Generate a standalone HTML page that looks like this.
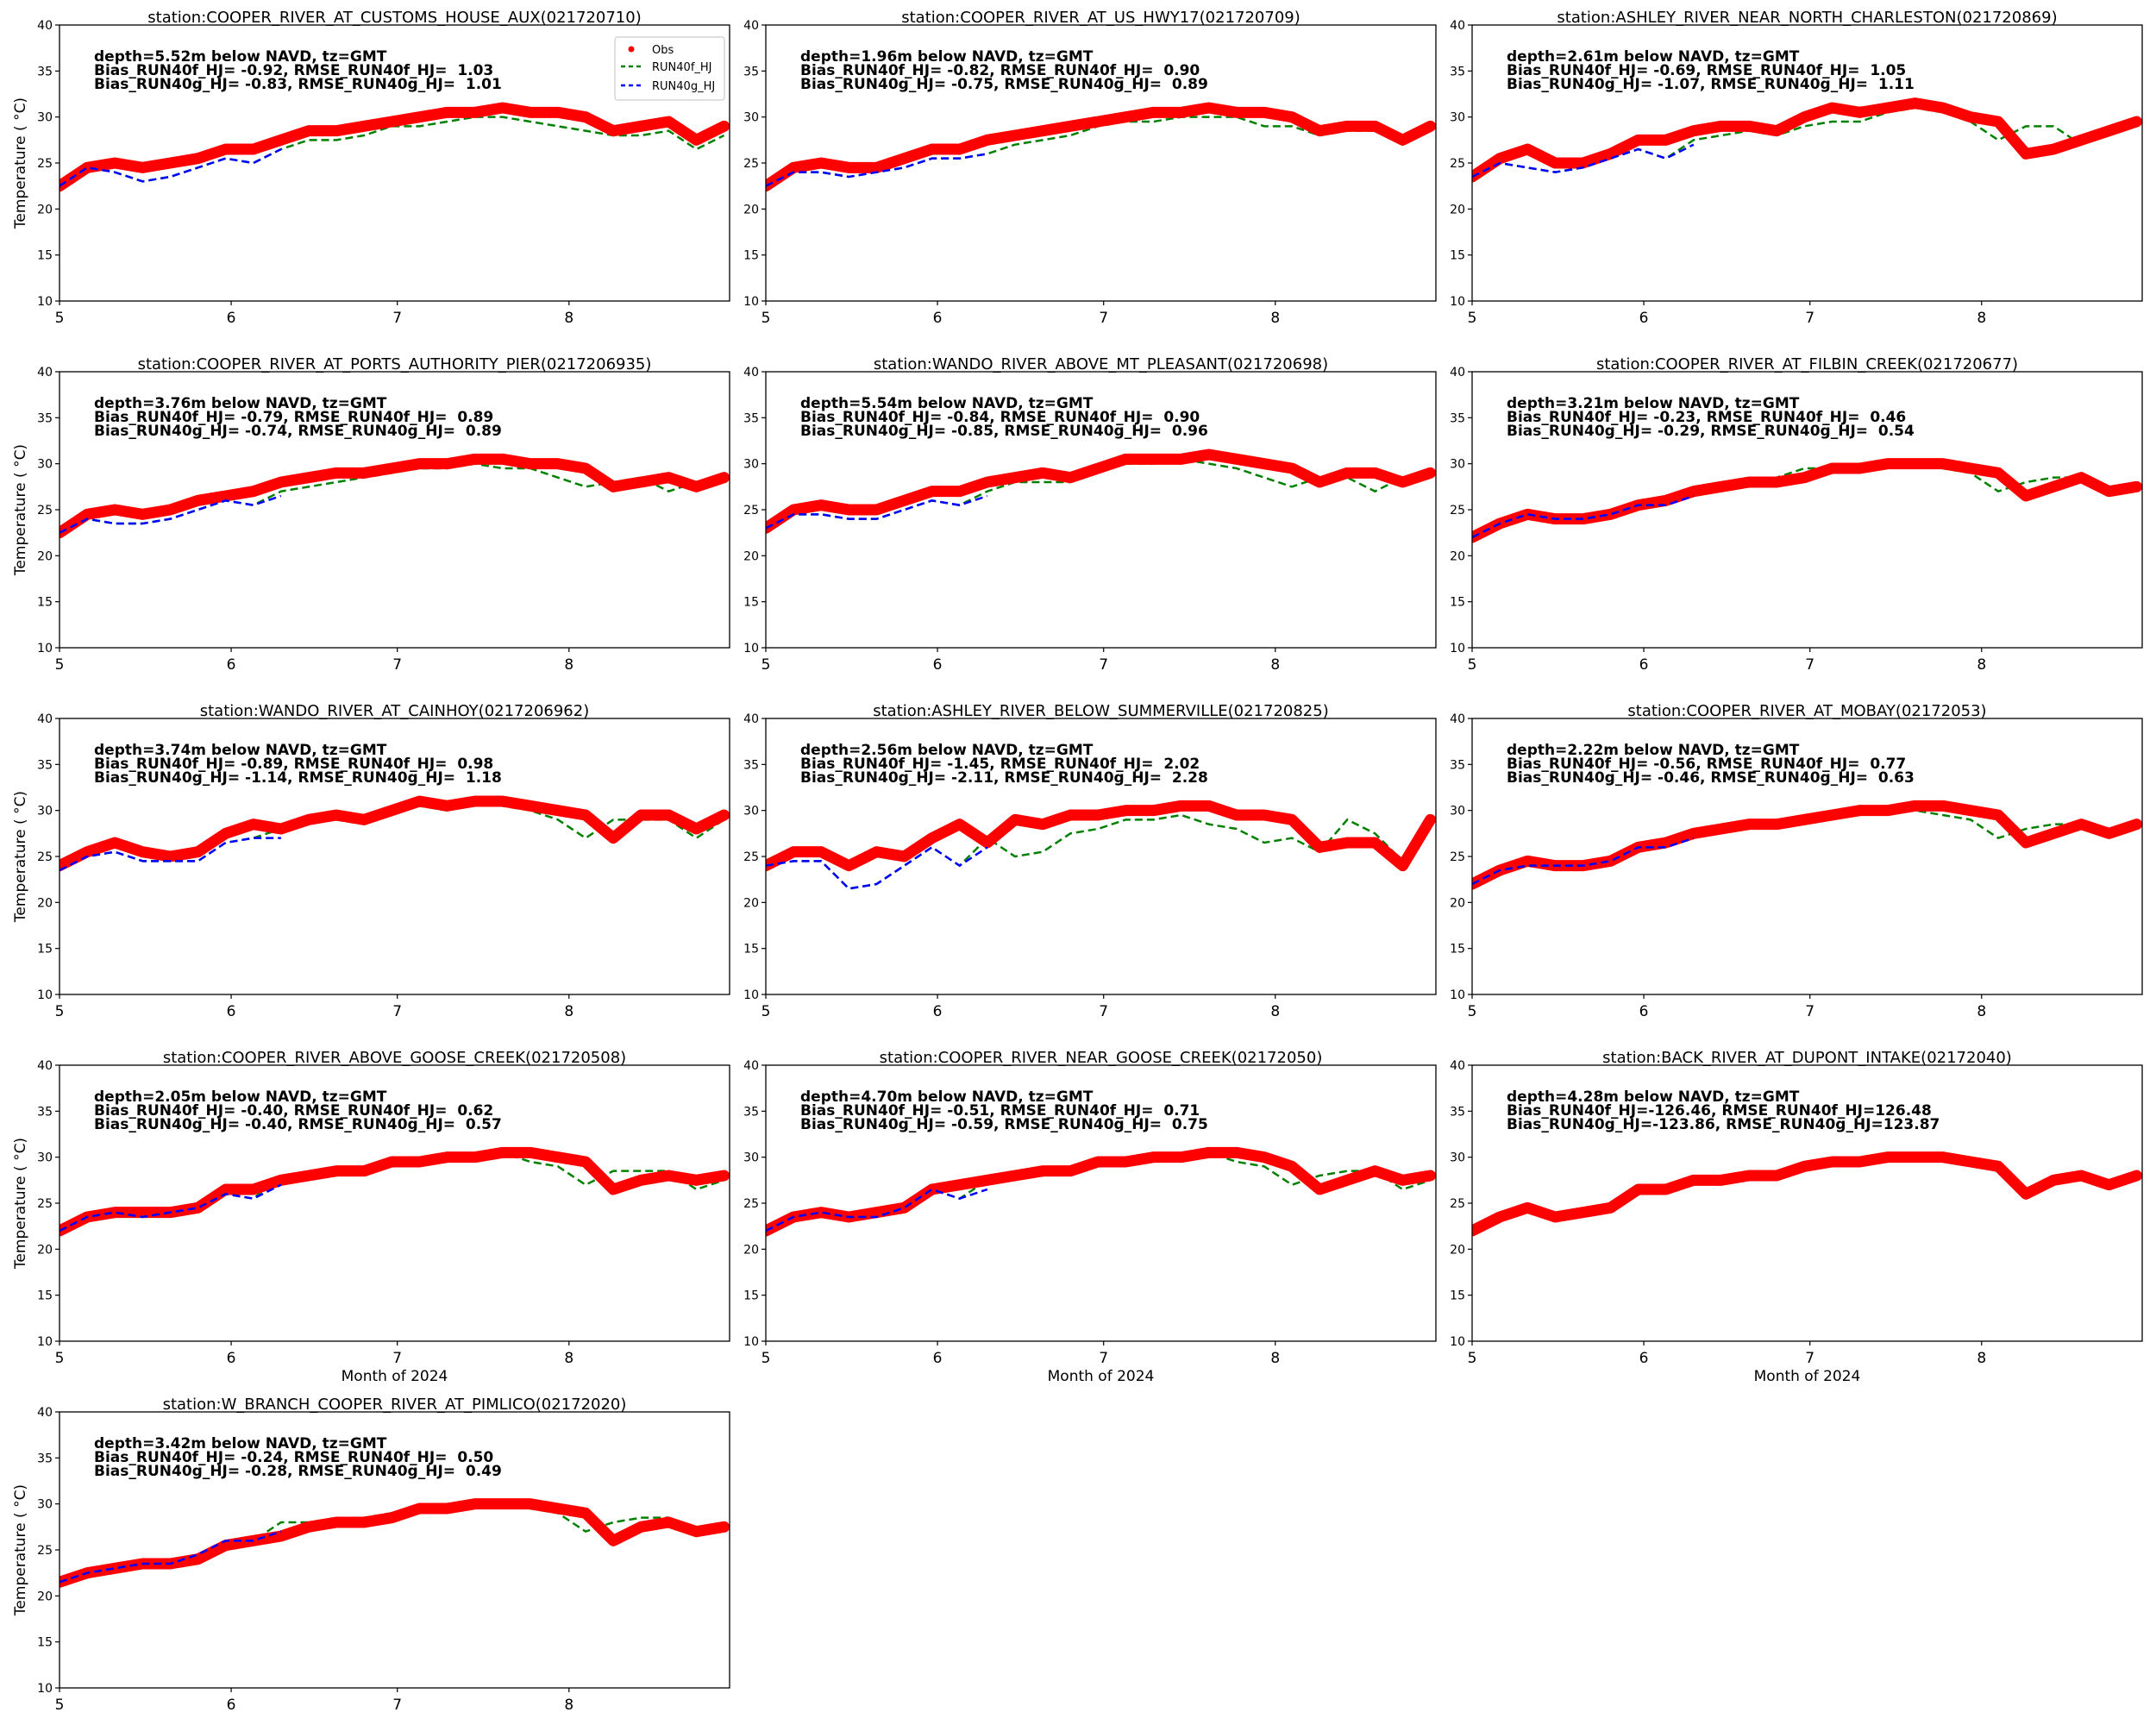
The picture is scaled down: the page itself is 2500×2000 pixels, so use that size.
<!DOCTYPE html>
<html><head><meta charset="utf-8"><style>
html,body{margin:0;padding:0;background:#fff;}
svg{display:block;font-family:"DejaVu Sans","Liberation Sans",sans-serif;}
text{white-space:pre;}
</style></head><body>
<svg id="fig" width="2500" height="2000" viewBox="0 0 2500 2000" xmlns="http://www.w3.org/2000/svg" xml:space="preserve"></svg>
<script>
// ---- data (days since May 1, step 5) ----
const days = [0,5,10,15,20,25,30,35,40,45,50,55,60,65,70,75,80,85,90,95,100,105,110,115,120];
const xTickLabels = ["5","6","7","8"];
const xTickDays = [0,31,61,92];
const yTicks = [10,15,20,25,30,35,40];
const titles = [
"station:COOPER_RIVER_AT_CUSTOMS_HOUSE_AUX(021720710)",
"station:COOPER_RIVER_AT_US_HWY17(021720709)",
"station:ASHLEY_RIVER_NEAR_NORTH_CHARLESTON(021720869)",
"station:COOPER_RIVER_AT_PORTS_AUTHORITY_PIER(0217206935)",
"station:WANDO_RIVER_ABOVE_MT_PLEASANT(021720698)",
"station:COOPER_RIVER_AT_FILBIN_CREEK(021720677)",
"station:WANDO_RIVER_AT_CAINHOY(0217206962)",
"station:ASHLEY_RIVER_BELOW_SUMMERVILLE(021720825)",
"station:COOPER_RIVER_AT_MOBAY(02172053)",
"station:COOPER_RIVER_ABOVE_GOOSE_CREEK(021720508)",
"station:COOPER_RIVER_NEAR_GOOSE_CREEK(02172050)",
"station:BACK_RIVER_AT_DUPONT_INTAKE(02172040)",
"station:W_BRANCH_COOPER_RIVER_AT_PIMLICO(02172020)"];
const depths = ["5.52","1.96","2.61","3.76","5.54","3.21","3.74","2.56","2.22","2.05","4.70","4.28","3.42"];
const statsF = ["Bias_RUN40f_HJ= -0.92, RMSE_RUN40f_HJ=  1.03","Bias_RUN40f_HJ= -0.82, RMSE_RUN40f_HJ=  0.90","Bias_RUN40f_HJ= -0.69, RMSE_RUN40f_HJ=  1.05","Bias_RUN40f_HJ= -0.79, RMSE_RUN40f_HJ=  0.89","Bias_RUN40f_HJ= -0.84, RMSE_RUN40f_HJ=  0.90","Bias_RUN40f_HJ= -0.23, RMSE_RUN40f_HJ=  0.46","Bias_RUN40f_HJ= -0.89, RMSE_RUN40f_HJ=  0.98","Bias_RUN40f_HJ= -1.45, RMSE_RUN40f_HJ=  2.02","Bias_RUN40f_HJ= -0.56, RMSE_RUN40f_HJ=  0.77","Bias_RUN40f_HJ= -0.40, RMSE_RUN40f_HJ=  0.62","Bias_RUN40f_HJ= -0.51, RMSE_RUN40f_HJ=  0.71","Bias_RUN40f_HJ=-126.46, RMSE_RUN40f_HJ=126.48","Bias_RUN40f_HJ= -0.24, RMSE_RUN40f_HJ=  0.50"];
const statsG = ["Bias_RUN40g_HJ= -0.83, RMSE_RUN40g_HJ=  1.01","Bias_RUN40g_HJ= -0.75, RMSE_RUN40g_HJ=  0.89","Bias_RUN40g_HJ= -1.07, RMSE_RUN40g_HJ=  1.11","Bias_RUN40g_HJ= -0.74, RMSE_RUN40g_HJ=  0.89","Bias_RUN40g_HJ= -0.85, RMSE_RUN40g_HJ=  0.96","Bias_RUN40g_HJ= -0.29, RMSE_RUN40g_HJ=  0.54","Bias_RUN40g_HJ= -1.14, RMSE_RUN40g_HJ=  1.18","Bias_RUN40g_HJ= -2.11, RMSE_RUN40g_HJ=  2.28","Bias_RUN40g_HJ= -0.46, RMSE_RUN40g_HJ=  0.63","Bias_RUN40g_HJ= -0.40, RMSE_RUN40g_HJ=  0.57","Bias_RUN40g_HJ= -0.59, RMSE_RUN40g_HJ=  0.75","Bias_RUN40g_HJ=-123.86, RMSE_RUN40g_HJ=123.87","Bias_RUN40g_HJ= -0.28, RMSE_RUN40g_HJ=  0.49"];
const obs = [
[22.5,24.5,25,24.5,25,25.5,26.5,26.5,27.5,28.5,28.5,29,29.5,30,30.5,30.5,31,30.5,30.5,30,28.5,29,29.5,27.5,29],
[22.5,24.5,25,24.5,24.5,25.5,26.5,26.5,27.5,28,28.5,29,29.5,30,30.5,30.5,31,30.5,30.5,30,28.5,29,29,27.5,29],
[23.5,25.5,26.5,25,25,26,27.5,27.5,28.5,29,29,28.5,30,31,30.5,31,31.5,31,30,29.5,26,26.5,27.5,28.5,29.5],
[22.5,24.5,25,24.5,25,26,26.5,27,28,28.5,29,29,29.5,30,30,30.5,30.5,30,30,29.5,27.5,28,28.5,27.5,28.5],
[23,25,25.5,25,25,26,27,27,28,28.5,29,28.5,29.5,30.5,30.5,30.5,31,30.5,30,29.5,28,29,29,28,29],
[22,23.5,24.5,24,24,24.5,25.5,26,27,27.5,28,28,28.5,29.5,29.5,30,30,30,29.5,29,26.5,27.5,28.5,27,27.5],
[24,25.5,26.5,25.5,25,25.5,27.5,28.5,28,29,29.5,29,30,31,30.5,31,31,30.5,30,29.5,27,29.5,29.5,28,29.5],
[24,25.5,25.5,24,25.5,25,27,28.5,26.5,29,28.5,29.5,29.5,30,30,30.5,30.5,29.5,29.5,29,26,26.5,26.5,24,29],
[22,23.5,24.5,24,24,24.5,26,26.5,27.5,28,28.5,28.5,29,29.5,30,30,30.5,30.5,30,29.5,26.5,27.5,28.5,27.5,28.5],
[22,23.5,24,24,24,24.5,26.5,26.5,27.5,28,28.5,28.5,29.5,29.5,30,30,30.5,30.5,30,29.5,26.5,27.5,28,27.5,28],
[22,23.5,24,23.5,24,24.5,26.5,27,27.5,28,28.5,28.5,29.5,29.5,30,30,30.5,30.5,30,29,26.5,27.5,28.5,27.5,28],
[22,23.5,24.5,23.5,24,24.5,26.5,26.5,27.5,27.5,28,28,29,29.5,29.5,30,30,30,29.5,29,26,27.5,28,27,28],
[21.5,22.5,23,23.5,23.5,24,25.5,26,26.5,27.5,28,28,28.5,29.5,29.5,30,30,30,29.5,29,26,27.5,28,27,27.5]];
const runF = [
[22.5,24.5,24,23,23.5,24.5,25.5,25,26.5,27.5,27.5,28,29,29,29.5,30,30,29.5,29,28.5,28,28,28.5,26.5,28],
[22.5,24,24,23.5,24,24.5,25.5,25.5,26,27,27.5,28,29,29.5,29.5,30,30,30,29,29,28,28.5,28.5,27,28.5],
[23.5,25,24.5,24,24.5,25.5,26.5,25.5,27.5,28,28.5,28,29,29.5,29.5,30.5,31,30.5,29.5,27.5,29,29,27,29,29],
[22.5,24,23.5,23.5,24,25,26,25.5,27,27.5,28,28.5,29,29.5,29.5,30,29.5,29.5,28.5,27.5,28,28.5,27,28,28],
[23,24.5,24.5,24,24,25,26,25.5,27,28,28,28,29.5,30,30,30.5,30,29.5,28.5,27.5,28.5,28.5,27,28.5,28.5],
[22,23.5,24.5,24,24,24.5,25.5,25.5,27.5,28,28,28.5,29.5,29.5,30,30,30,29.5,29,27,28,28.5,28.5,27,27.5],
[23.5,25,25.5,24.5,24.5,24.5,26.5,27,28,29,29,28.5,30,30.5,30,31,30.5,30,29,27,29,29,29,27,29],
[24,24.5,24.5,21.5,22,24,26,24,27,25,25.5,27.5,28,29,29,29.5,28.5,28,26.5,27,25.5,29,27.5,24.5,28.5],
[22,23.5,24,24,24,24.5,26,26,27.5,28,28,28.5,29,29.5,30,30,30,29.5,29,27,28,28.5,28.5,27,28],
[22,23.5,24,23.5,24,24.5,26,25.5,28,28,28,28.5,29.5,29.5,30,30,30.5,29.5,29,27,28.5,28.5,28.5,26.5,27.5],
[22,23.5,24,23.5,23.5,24.5,26.5,25.5,27.5,28,28,28.5,29.5,29.5,30,30,30.5,29.5,29,27,28,28.5,28.5,26.5,27.5],
[],
[21.5,22.5,23,23.5,23.5,24.5,26,26,28,28,28,28.5,29,29.5,30,30,30,29.5,29,27,28,28.5,28.5,26.5,27.5]];
const runG = [
[22.5,24.5,24,23,23.5,24.5,25.5,25,26.5],
[22.5,24,24,23.5,24,24.5,25.5,25.5,26],
[23.5,25,24.5,24,24.5,25.5,26.5,25.5,27],
[22.5,24,23.5,23.5,24,25,26,25.5,26.5],
[23,24.5,24.5,24,24,25,26,25.5,26.5],
[22,23.5,24.5,24,24,24.5,25.5,25.5,26.5],
[23.5,25,25.5,24.5,24.5,24.5,26.5,27,27],
[24,24.5,24.5,21.5,22,24,26,24,26],
[22,23.5,24,24,24,24.5,26,26,27],
[22,23.5,24,23.5,24,24.5,26,25.5,27],
[22,23.5,24,23.5,23.5,24.5,26.5,25.5,26.5],
[],
[21.5,22.5,23,23.5,23.5,24.5,26,26,27]];

const NS = "http://www.w3.org/2000/svg";
const svg = document.getElementById("fig");
function mk(tag, attrs, parent){const e=document.createElementNS(NS,tag);for(const k in attrs)e.setAttribute(k,attrs[k]);(parent||svg).appendChild(e);return e;}
const colL=[69,888,1707], rowT=[29,431,833,1235,1637], W=777, H=320, XMAX=121;

titles.forEach((t,i)=>{
  const L=colL[i%3], T=rowT[Math.floor(i/3)];
  const xs=d=>L+d/XMAX*W, ys=v=>T+H-(v-10)/30*H;
  const g=mk("g",{});
  
  
  const tt=mk("text",{x:L+W/2,y:T-3,"text-anchor":"middle","font-size":18},g); tt.textContent=t;
   
  const clip=mk("clipPath",{id:"c"+i},g); mk("rect",{x:L,y:T,width:W,height:H},clip);
  const pts=arr=>arr.map((v,j)=>xs(days[j])+","+ys(v)).join(" ");
  const pg=mk("g",{"clip-path":"url(#c"+i+")"},g);
  if(runF[i].length){const p=mk("polyline",{points:pts(runF[i]),fill:"none",stroke:"#008000","stroke-width":2.5,"stroke-dasharray":"9,5"},pg);
     }
  const o=mk("polyline",{points:pts(obs[i]),fill:"none",stroke:"#ff0000","stroke-width":13,"stroke-linejoin":"round","stroke-linecap":"round"},pg);
   
  if(runG[i].length){const p=mk("polyline",{points:pts(runG[i]),fill:"none",stroke:"#0000ff","stroke-width":2.5,"stroke-dasharray":"9,5"},pg);
     }
  mk("rect",{x:L,y:T,width:W,height:H,fill:"none",stroke:"#000","stroke-width":1.3},g);
  yTicks.forEach(v=>{const y=ys(v);mk("line",{x1:L-5,x2:L,y1:y,y2:y,stroke:"#000","stroke-width":1.2},g);
    const tx=mk("text",{x:L-8,y:y+5,"text-anchor":"end","font-size":14},g);tx.textContent=v;
     });
  xTickDays.forEach((d,j)=>{const x=xs(d);mk("line",{x1:x,x2:x,y1:T+H,y2:T+H+5,stroke:"#000","stroke-width":1.2},g);
    const tx=mk("text",{x:x,y:T+H+25,"text-anchor":"middle","font-size":17},g);tx.textContent=xTickLabels[j];
     });
  if(i%3===0){const yl=mk("text",{x:0,y:0,"text-anchor":"middle","font-size":17,transform:`translate(${L-40},${T+H/2}) rotate(-90)`},g);
    yl.textContent="Temperature ( \u00B0C)";  }
  if(i>=9 && i<=11){const xl=mk("text",{x:L+W/2,y:T+H+46,"text-anchor":"middle","font-size":17},g);
    xl.textContent="Month of 2024";  }
  const lines=["depth="+depths[i]+"m below NAVD, tz=GMT",statsF[i],statsG[i]];
  lines.forEach((s,k)=>{const a=mk("text",{x:L+40,y:T+42+k*16,"font-size":17,"font-weight":"bold"},g);a.textContent=s;
     });
  if(i===0){const lg=mk("g",{},g);
    mk("rect",{x:713,y:43,width:127,height:73,rx:3,fill:"#fff",stroke:"#ccc","stroke-width":1.2},lg);
    mk("circle",{cx:732,cy:57,r:3.5,fill:"#ff0000"},lg);
    mk("line",{x1:720,x2:745,y1:77,y2:77,stroke:"#008000","stroke-width":2.5,"stroke-dasharray":"5,4"},lg);
    mk("line",{x1:720,x2:745,y1:99,y2:99,stroke:"#0000ff","stroke-width":2.5,"stroke-dasharray":"5,4"},lg);
    [["Obs",62],["RUN40f_HJ",82],["RUN40g_HJ",104]].forEach(([s,y])=>{const e=mk("text",{x:756,y:y,"font-size":13},lg);e.textContent=s;
       });}
});
</script>
</body></html>
